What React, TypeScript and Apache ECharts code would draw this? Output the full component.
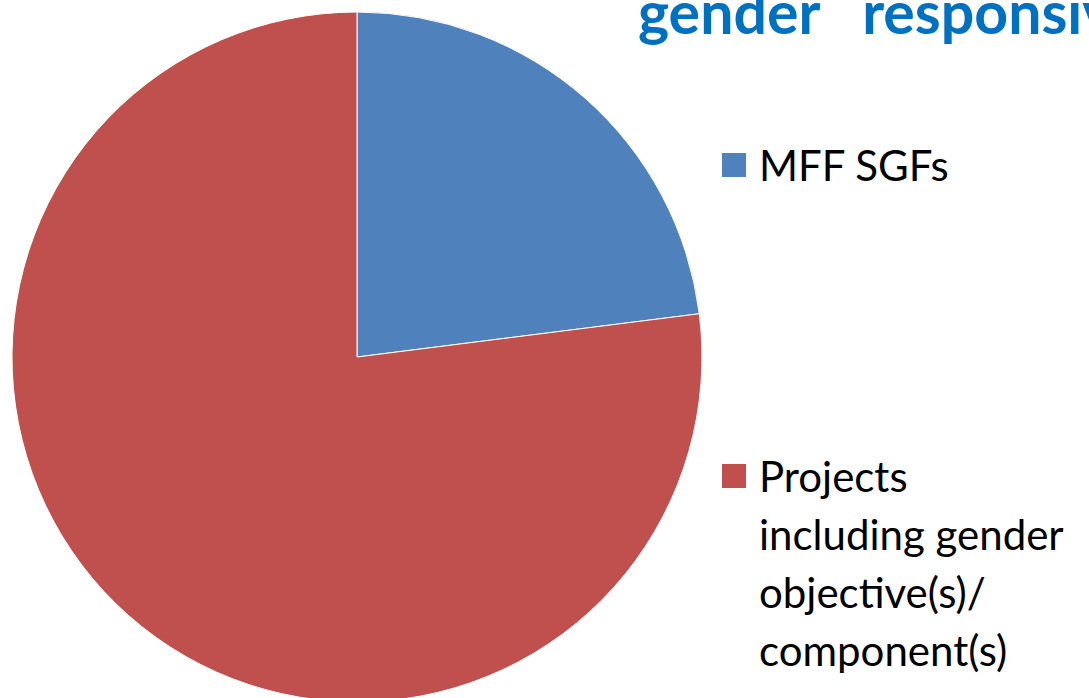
import React, { useEffect, useRef } from "react";
import * as echarts from "echarts";

const categories = ["MFF SGFs", "Projects including gender objective(s)/ component(s)"];
const legendLabels = ["MFF SGFs", "\n\n\nProjects\nincluding gender\nobjective(s)/\ncomponent(s)"];
const values = [23, 77];
const colors = ["#4F81BD", "#C0504D"];
const titleText = "gender   responsive";

export default function App() {
  const ref = useRef<HTMLDivElement>(null);
  useEffect(() => {
    const chart = echarts.init(ref.current!, undefined, { renderer: "svg" });
    const L = 58;
    const legendBase = {
      orient: "vertical",
      left: 720,
      itemWidth: 26,
      itemHeight: 26,
      icon: "rect",
      padding: 0,
      formatter: (name: string) => legendLabels[categories.indexOf(name)],
      textStyle: {
        fontFamily: "Lato",
        fontSize: 42,
        color: "#000000",
        lineHeight: L,
        padding: [0, 0, 0, 7],
      },
    };
    chart.setOption({
      animation: false,
      backgroundColor: "#ffffff",
      title: {
        text: titleText,
        left: 638,
        top: -18,
        padding: 0,
        textStyle: {
          fontFamily: "Lato",
          fontWeight: "bold",
          fontSize: 59,
          color: "#0070C0",
        },
      },
      legend: [
        { ...legendBase, top: 136, data: [categories[0]] },
        { ...legendBase, top: 273, data: [categories[1]] },
      ],
      series: [
        {
          type: "pie",
          center: [357, 357],
          radius: 345,
          startAngle: 90,
          clockwise: true,
          label: { show: false },
          labelLine: { show: false },
          itemStyle: { borderColor: "#ffffff", borderWidth: 1 },
          emphasis: { disabled: true },
          data: categories.map((c, i) => ({
            name: c,
            value: values[i],
            itemStyle: { color: colors[i] },
          })),
        },
      ],
    });
    return () => chart.dispose();
  }, []);
  return (
    <div
      ref={ref}
      style={{ position: "fixed", left: 0, top: 0, width: 1089, height: 698 }}
    />
  );
}
